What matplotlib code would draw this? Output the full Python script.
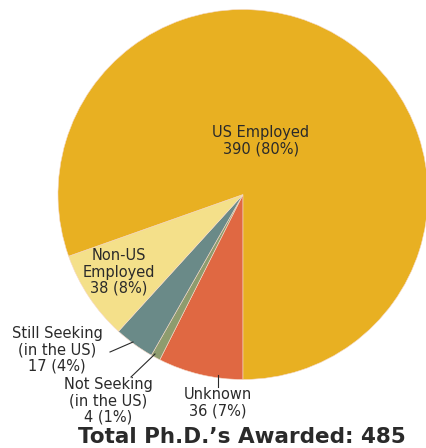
import matplotlib.pyplot as plt

# slices, listed clockwise starting at six o'clock
labels = ["Unknown", "Not Seeking\n(in the US)", "Still Seeking\n(in the US)",
          "Non-US\nEmployed", "US Employed"]
counts = [36, 4, 17, 38, 390]
colors = ["#E06842", "#8E9C6E", "#6A8A88", "#F4E08A", "#E8B022"]
total = sum(counts)

W, H = 426, 448
CX, CY, R = 243, 194.5, 185.0


def px(x, y):
    # pixel position (origin top-left) -> data units of the pie
    return (x - CX) / R, (CY - y) / R


fig = plt.figure(figsize=(W / 100, H / 100), dpi=100)
ax = fig.add_axes([0, 0, 1, 1])
ax.pie(counts, colors=colors, startangle=-90, counterclock=False, radius=1.0,
       wedgeprops=dict(edgecolor="#F6D9C8", linewidth=0.4))
x0, y0 = px(0, H)
x1, y1 = px(W, 0)
ax.set_xlim(x0, x1)
ax.set_ylim(y0, y1)
ax.set_aspect("equal")
ax.axis("off")

txt = dict(ha="center", va="center", fontsize=10.5, color="#2A2A2A",
           linespacing=1.1, family="DejaVu Sans")


def label(i, x, y):
    pct = round(100 * counts[i] / total)
    ax.text(*px(x, y), f"{labels[i]}\n{counts[i]} ({pct}%)", **txt)


label(4, 261, 141)
label(3, 119, 272)
label(2, 57, 350)
label(1, 108, 401)
label(0, 218, 403)

# leader lines for the small slices
lc = dict(color="#2A2A2A", linewidth=0.8)
for (a, b), (c, d) in [((110, 352), (133, 342)), ((131, 377), (155, 354)),
                       ((218, 375), (218, 387))]:
    (xa, ya), (xc, yc) = px(a, b), px(c, d)
    ax.plot([xa, xc], [ya, yc], **lc)

ax.text(*px(242, 437), f"Total Ph.D.\u2019s Awarded: {total}", ha="center",
        va="center", fontsize=15.5, fontweight="bold", color="#2A2A2A")

fig.savefig("out.png", dpi=100)
